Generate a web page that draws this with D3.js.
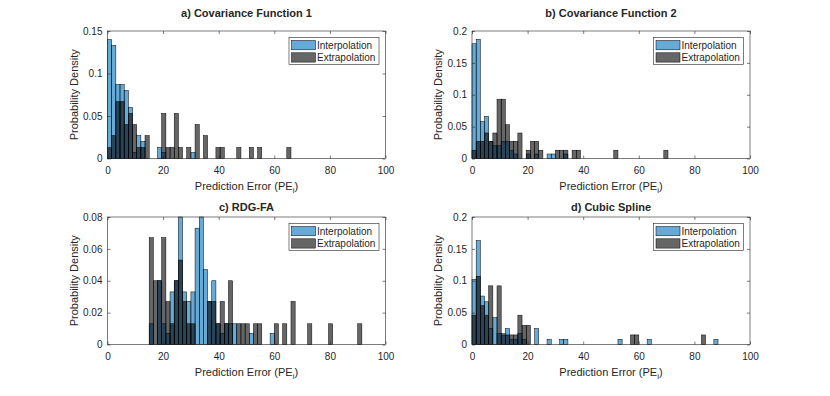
<!DOCTYPE html>
<html>
<head>
<meta charset="utf-8">
<script src="https://cdn.jsdelivr.net/npm/d3@7"></script>
<style>
body { margin: 0; background: #fff; }
text { font-family: Arial, "Liberation Sans", Helvetica, sans-serif; fill: #262626; }
</style>
</head>
<body>
<svg id="chart"></svg>
<script>
// ---------------------------- data -----------------------------------
const binWidth = 1.5;
const xTicks = [0, 20, 40, 60, 80, 100];
const seriesNames = ['Interpolation', 'Extrapolation'];

// a) Covariance Function 1  (left edge of bin, pdf value)
const aInterpLeft = [0, 1.5, 3, 4.5, 6, 7.5, 9, 10.5, 12, 18, 19.5, 30];
const aInterpDens = [0.140, 0.133, 0.087, 0.087, 0.080, 0.060, 0.007, 0.027, 0.020, 0.013, 0.007, 0.007];
const aExtrapLeft = [0, 1.5, 3, 4.5, 6, 7.5, 9, 10.5, 12, 13.5, 19.5, 21, 22.5, 24, 25.5, 28.5, 31.5, 34.5, 39, 40.5, 46.5, 51, 54, 64.5];
const aExtrapDens = [0.013, 0.027, 0.067, 0.067, 0.040, 0.053, 0.040, 0.013, 0.013, 0.027, 0.053, 0.013, 0.013, 0.053, 0.013, 0.013, 0.040, 0.027, 0.013, 0.013, 0.013, 0.013, 0.013, 0.013];

// b) Covariance Function 2
const bInterpLeft = [0, 1.5, 3, 4.5, 6, 7.5, 9, 10.5, 12, 13.5, 15, 19.5, 22.5, 27, 28.5, 33];
const bInterpDens = [0.180, 0.187, 0.058, 0.066, 0.027, 0.020, 0.020, 0.027, 0.027, 0.013, 0.007, 0.007, 0.007, 0.007, 0.007, 0.007];
const bExtrapLeft = [0, 1.5, 3, 4.5, 6, 7.5, 9, 10.5, 12, 13.5, 15, 16.5, 19.5, 21, 22.5, 24, 30, 31.5, 33, 36, 37.5, 51, 69];
const bExtrapDens = [0.013, 0.027, 0.027, 0.040, 0.027, 0.040, 0.093, 0.093, 0.053, 0.027, 0.027, 0.040, 0.013, 0.027, 0.027, 0.013, 0.013, 0.013, 0.013, 0.013, 0.013, 0.013, 0.013];

// c) RDG-FA
const cInterpLeft = [15, 18, 19.5, 21, 22.5, 24, 25.5, 27, 28.5, 30, 31.5, 33, 34.5, 36, 37.5, 39, 40.5, 42, 43.5, 45, 51, 58.5];
const cInterpDens = [0.013, 0.040, 0.013, 0.007, 0.033, 0.040, 0.080, 0.033, 0.027, 0.033, 0.073, 0.080, 0.047, 0.027, 0.040, 0.013, 0.007, 0.013, 0.013, 0.013, 0.007, 0.007];
const cExtrapLeft = [15, 16.5, 18, 19.5, 21, 22.5, 24, 25.5, 27, 28.5, 30, 36, 37.5, 39, 40.5, 42, 43.5, 46.5, 48, 49.5, 52.5, 54, 60, 63, 66, 72, 79.5, 90];
const cExtrapDens = [0.067, 0.040, 0.040, 0.067, 0.027, 0.013, 0.040, 0.053, 0.027, 0.013, 0.013, 0.027, 0.027, 0.013, 0.027, 0.013, 0.040, 0.013, 0.013, 0.013, 0.013, 0.013, 0.013, 0.013, 0.027, 0.013, 0.013, 0.013];

// d) Cubic Spline
const dInterpLeft = [0, 1.5, 3, 4.5, 6, 7.5, 9, 10.5, 12, 13.5, 15, 16.5, 18, 22.5, 27, 31.5, 33, 52.5, 63, 87];
const dInterpDens = [0.102, 0.163, 0.076, 0.067, 0.025, 0.042, 0.017, 0.017, 0.025, 0.008, 0.008, 0.017, 0.008, 0.025, 0.008, 0.008, 0.008, 0.008, 0.008, 0.008];
const dExtrapLeft = [0, 1.5, 3, 4.5, 6, 9, 10.5, 12, 13.5, 15, 16.5, 18, 19.5, 57, 58.5, 82.5];
const dExtrapDens = [0.046, 0.107, 0.061, 0.046, 0.092, 0.092, 0.015, 0.015, 0.015, 0.015, 0.046, 0.030, 0.030, 0.015, 0.015, 0.015];

// ---------------------------- layout -----------------------------------
const width = 830;
const height = 396;
const plotW = 278;
const plotH = 127.5;

const panels = [
  {title: 'a) Covariance Function 1', left: 107.5, top: 31, titleY: 17, yMax: 0.15, yTicks: [0, 0.05, 0.1, 0.15],
   interp: [aInterpLeft, aInterpDens], extrap: [aExtrapLeft, aExtrapDens]},
  {title: 'b) Covariance Function 2', left: 472, top: 31, titleY: 17, yMax: 0.2, yTicks: [0, 0.05, 0.1, 0.15, 0.2],
   interp: [bInterpLeft, bInterpDens], extrap: [bExtrapLeft, bExtrapDens]},
  {title: 'c) RDG-FA', left: 107.5, top: 217, titleY: 211, yMax: 0.08, yTicks: [0, 0.02, 0.04, 0.06, 0.08],
   interp: [cInterpLeft, cInterpDens], extrap: [cExtrapLeft, cExtrapDens]},
  {title: 'd) Cubic Spline', left: 472, top: 217, titleY: 211, yMax: 0.2, yTicks: [0, 0.05, 0.1, 0.15, 0.2],
   interp: [dInterpLeft, dInterpDens], extrap: [dExtrapLeft, dExtrapDens]}
];

const colors = ['#0072BD', '#000000'];
const faceAlpha = 0.6;

const svg = d3.select('#chart')
  .attr('width', width)
  .attr('height', height);

panels.forEach(function(p) {
  const g = svg.append('g').attr('transform', `translate(${p.left},${p.top})`);

  const x = d3.scaleLinear().domain([0, 100]).range([0, plotW]);
  const y = d3.scaleLinear().domain([0, p.yMax]).range([plotH, 0]);

  // bars: interpolation first, extrapolation on top
  [p.interp, p.extrap].forEach(function(s, i) {
    const rows = s[0].map((l, j) => ({left: l, dens: s[1][j]}));
    g.append('g').selectAll('rect')
      .data(rows)
      .enter()
      .append('rect')
      .attr('x', d => x(d.left))
      .attr('width', d => x(d.left + binWidth) - x(d.left))
      .attr('y', d => y(d.dens))
      .attr('height', d => y(0) - y(d.dens))
      .attr('fill', colors[i])
      .attr('fill-opacity', faceAlpha)
      .attr('stroke', '#000')
      .attr('stroke-width', 0.5);
  });

  // axes, ticks inside, mirrored on the box
  const xb = g.append('g').attr('transform', `translate(0,${plotH})`)
    .call(d3.axisBottom(x).tickValues(xTicks).tickSizeInner(-3).tickSizeOuter(0).tickPadding(8).tickFormat(d => d));
  const xt = g.append('g')
    .call(d3.axisTop(x).tickValues(xTicks).tickSizeInner(-3).tickSizeOuter(0).tickFormat(''));
  const yl = g.append('g')
    .call(d3.axisLeft(y).tickValues(p.yTicks).tickSizeInner(-3).tickSizeOuter(0).tickPadding(5).tickFormat(d => String(d)));
  const yr = g.append('g').attr('transform', `translate(${plotW},0)`)
    .call(d3.axisRight(y).tickValues(p.yTicks).tickSizeInner(-3).tickSizeOuter(0).tickFormat(''));

  [xb, xt, yl, yr].forEach(function(a) {
    a.select('.domain').remove();
    a.selectAll('line').attr('stroke', '#262626').attr('stroke-width', 0.6);
    a.selectAll('text').attr('font-size', 10).attr('fill', '#262626')
      .style('font-family', 'Arial, "Liberation Sans", sans-serif');
  });

  g.append('rect')
    .attr('width', plotW)
    .attr('height', plotH)
    .attr('fill', 'none')
    .attr('stroke', '#262626')
    .attr('stroke-width', 0.6);

  // title
  svg.append('text')
    .attr('x', p.left + plotW / 2)
    .attr('y', p.titleY)
    .attr('text-anchor', 'middle')
    .attr('font-size', 11)
    .attr('font-weight', 'bold')
    .attr('fill', '#000')
    .text(p.title);

  // x label with subscript
  const xl = svg.append('text')
    .attr('x', p.left + plotW / 2)
    .attr('y', p.top + plotH + 31)
    .attr('text-anchor', 'middle')
    .attr('font-size', 11);
  xl.append('tspan').text('Prediction Error (PE');
  xl.append('tspan').attr('font-size', 8).attr('dy', 3).text('i');
  xl.append('tspan').attr('dy', -3).text(')');

  // y label
  svg.append('text')
    .attr('transform', `translate(${p.left - 30},${p.top + plotH / 2}) rotate(-90)`)
    .attr('text-anchor', 'middle')
    .attr('font-size', 11)
    .text('Probability Density');

  // legend
  const lw = 90, lh = 27;
  const lg = g.append('g').attr('transform', `translate(${plotW - 6.5 - lw},6.5)`);
  lg.append('rect')
    .attr('width', lw)
    .attr('height', lh)
    .attr('fill', '#fff')
    .attr('stroke', '#262626')
    .attr('stroke-width', 0.6);
  seriesNames.forEach(function(name, i) {
    lg.append('rect')
      .attr('x', 2.5)
      .attr('y', 3 + i * 12.3)
      .attr('width', 24)
      .attr('height', 9.3)
      .attr('fill', colors[i])
      .attr('fill-opacity', faceAlpha)
      .attr('stroke', '#000')
      .attr('stroke-width', 0.5);
    lg.append('text')
      .attr('x', 28)
      .attr('y', 11.3 + i * 12.3)
      .attr('font-size', 10)
      .attr('fill', '#000')
      .text(name);
  });
});
</script>
</body>
</html>
